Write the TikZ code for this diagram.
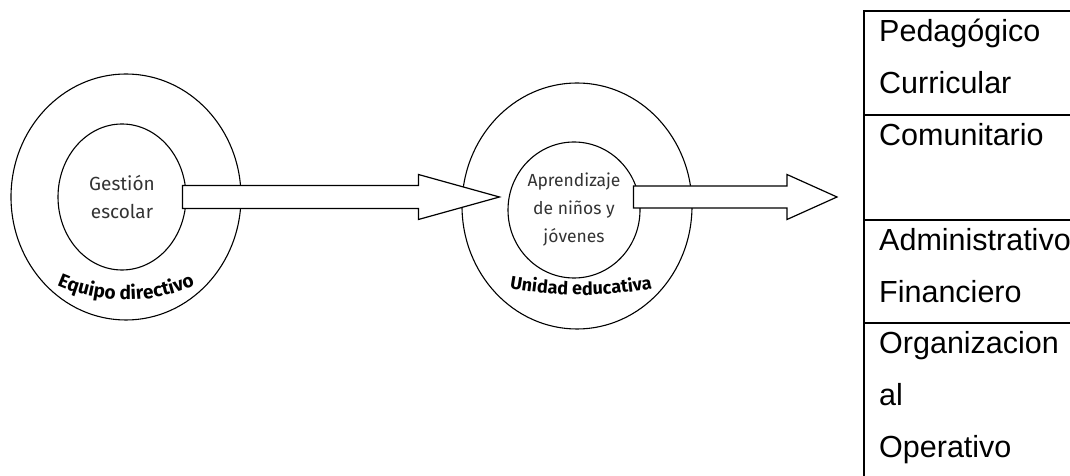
\documentclass[tikz,border=0pt]{standalone}
\usepackage{fontspec}
\setmainfont{Liberation Sans}
\newfontfamily\circfont{Fira Sans}
\newfontfamily\tablafont{Liberation Sans}
\usetikzlibrary{shapes.geometric,decorations.text,calc}

\begin{document}
\begin{tikzpicture}[
    x=1pt, y=1pt,
    anillo/.style={ellipse, draw, line width=1.1pt, inner sep=0pt},
    centro/.style={anillo, align=center, text=black!80,
      font=\circfont\fontsize{19}{28}\selectfont},
    flecha/.style={draw, fill=white, line width=1.2pt, line join=miter},
    linea/.style={draw, line width=2pt},
    celda/.style={anchor=base west, inner sep=0pt,
      font=\tablafont\fontsize{30.5}{36}\selectfont},
    rotulo/.style={decorate, decoration={text along path, text align=center}}]
  \useasboundingbox (0,0) rectangle (1070,476);
  \node [anillo, minimum width=230pt, minimum height=246pt] (equipo) at (126,279) {};
  \node [centro, minimum width=128pt, minimum height=146pt] (gestion) at (122,279) {Gestión\\escolar};
  \node [anillo, minimum width=230pt, minimum height=246pt] (unidad) at (577,270) {};
  \node [centro, minimum width=132pt, minimum height=136pt,
    font=\circfont\fontsize{17.5}{28}\selectfont] (aprend) at (574,266) {Aprendizaje\\de niños y\\jóvenes};
  \coordinate (ejeE) at ($(equipo.center)+(0,67)$);
  \coordinate (ejeU) at ($(unidad.center)+(4,311)$);
  \path [rotulo, decoration={text={|\circfont\bfseries\fontsize{19}{22}\selectfont|Equipo directivo}}]
    (ejeE) ++(230:170pt) arc[start angle=230, end angle=310, radius=170pt];
  \path [rotulo, decoration={text={|\circfont\bfseries\fontsize{18}{22}\selectfont|Unidad educativa}}]
    (ejeU) ++(256:400pt) arc[start angle=256, end angle=284, radius=400pt];
  \coordinate (tabla) at (864,465);
  \draw [flecha] let \p1=(gestion.east), \p2=(aprend.west) in
    (\x1-4pt,\y1+11.5pt) -- (\x2-89pt,\y1+11.5pt) -- (\x2-89pt,\y1+22.5pt) -- (\x2-8pt,\y1)
    -- (\x2-89pt,\y1-22.5pt) -- (\x2-89pt,\y1-11.5pt) -- (\x1-4pt,\y1-11.5pt) -- cycle;
  \draw [flecha] let \p1=(aprend.east), \p2=(tabla), \p3=(gestion.center) in
    (\x1-7pt,\y3+11pt) -- (\x2-77pt,\y3+11pt) -- (\x2-77pt,\y3+22.5pt) -- (\x2-27pt,\y3)
    -- (\x2-77pt,\y3-22.5pt) -- (\x2-77pt,\y3-11pt) -- (\x1-7pt,\y3-11pt) -- cycle;
  \draw [linea] (1070,465) -- (tabla) -- (864,0);
  \draw [linea] (864,361) -- (1070,361);
  \draw [linea] (864,256) -- (1070,256);
  \draw [linea] (864,153) -- (1070,153);
  \node [celda] (ped) at (879,434) {Pedagógico};
  \node [celda] (cur) at (879,382) {Curricular};
  \node [celda] (com) at (879,330) {Comunitario};
  \node [celda] (adm) at (879,225) {Administrativo};
  \node [celda] (fin) at (879,173) {Financiero};
  \node [celda] (org) at (879,122) {Organizacion};
  \node [celda] (al) at (879,70) {al};
  \node [celda] (ope) at (879,18) {Operativo};
\end{tikzpicture}
\end{document}
